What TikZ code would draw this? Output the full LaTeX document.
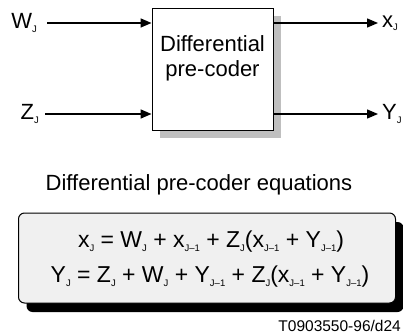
\documentclass[tikz,border=0pt]{standalone}
\usepackage{fontspec}
\setmainfont{Liberation Sans}
\usetikzlibrary{positioning,arrows.meta,shadows}

% small lowered index as in the figure
\newcommand{\idx}[1]{\raisebox{-3.5pt}{\fontsize{9.5}{10}\selectfont #1}}

\begin{document}
\begin{tikzpicture}[x=1pt, y=-1pt,
  box/.style={draw, line width=0.9pt, fill=white, minimum width=121pt, minimum height=122pt,
    drop shadow={shadow xshift=8pt, shadow yshift=-8pt, fill=black!25, opacity=1}},
  eqbox/.style={draw, line width=1pt, rounded corners=6pt, fill=black!6, minimum width=377pt, minimum height=90pt,
    drop shadow={shadow xshift=8pt, shadow yshift=-9pt, fill=black, opacity=1}},
  lbl/.style={font=\fontsize{22}{25}\selectfont, inner sep=1pt},
  arr/.style={-{Triangle[length=11pt, width=9pt]}, line width=1.4pt}]
\useasboundingbox (0,0) rectangle (403,336);
\node[box] (coder) at (212.5,69) {};
\node[lbl, align=center, font=\fontsize{22}{25}\selectfont] (coderText) at (212.5,58) {Differential\\pre-coder};
\node[lbl, anchor=east] (win) at (38,23) {W\idx{J}};
\node[lbl, anchor=east] (zin) at (40,114) {Z\idx{J}};
\node[lbl, anchor=west] (xout) at (381,23) {x\idx{J}};
\node[lbl, anchor=west] (yout) at (381,114) {Y\idx{J}};
\draw[arr, shorten <=9pt] (win.east) -- (win.east -| coder.west);
\draw[arr, shorten <=5pt] (zin.east) -- (zin.east -| coder.west);
\draw[arr, shorten >=3pt] (coder.east |- xout.west) -- (xout.west);
\draw[arr, shorten >=3pt] (coder.east |- yout.west) -- (yout.west);
% equations
\node[lbl] (title) at (199,185) {Differential pre-coder equations};
\node[eqbox] (eqs) at (207,258) {};
\node[lbl, font=\fontsize{23}{26}\selectfont] (eqx) at (211,242) {x\idx{J} = W\idx{J} + x\idx{J–1} + Z\idx{J}(x\idx{J–1} + Y\idx{J–1})};
\node[lbl, font=\fontsize{23}{26}\selectfont] (eqy) at (210,277) {Y\idx{J} = Z\idx{J} + W\idx{J} + Y\idx{J–1} + Z\idx{J}(x\idx{J–1} + Y\idx{J–1})};
\node[anchor=base east, inner sep=0pt, font=\fontsize{15.5}{18}\selectfont] (tag) at (401,331) {T0903550-96/d24};
\end{tikzpicture}
\end{document}
